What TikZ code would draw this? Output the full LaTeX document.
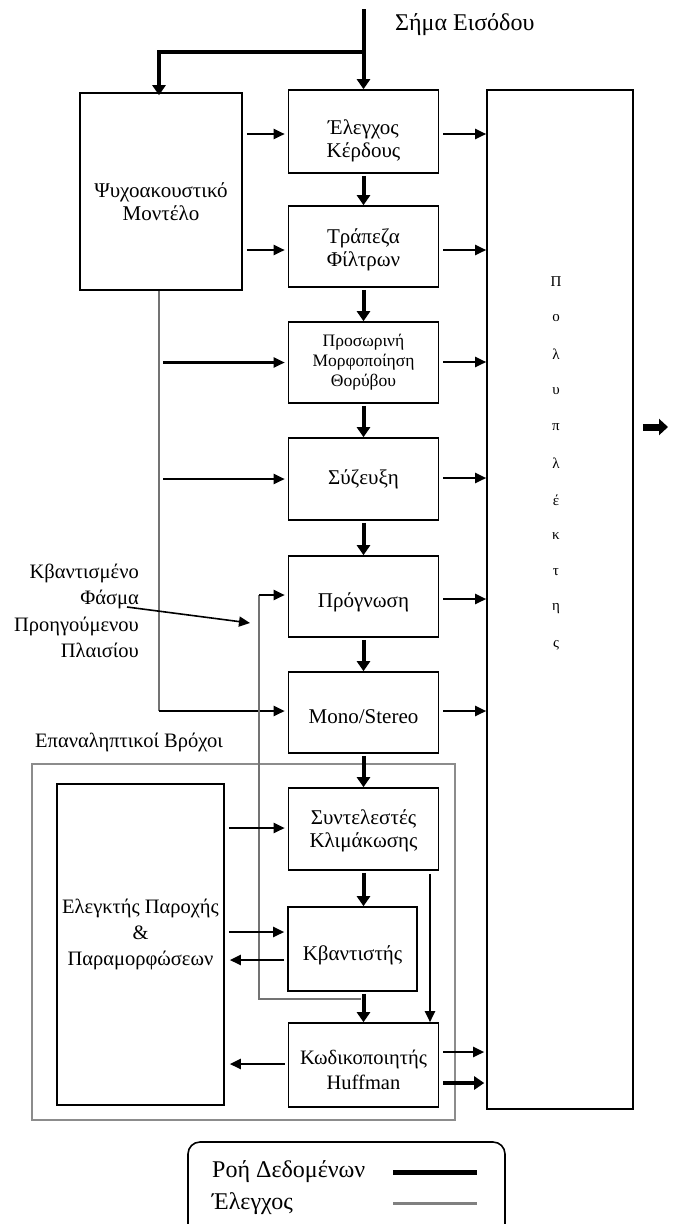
\documentclass[tikz,border=0pt]{standalone}
\usepackage{fontspec}
\setmainfont{Liberation Serif}
\usetikzlibrary{arrows.meta,calc}
\begin{document}
\begin{tikzpicture}[x=1pt,y=-1pt,
  box/.style={draw,line width=1.6pt,inner sep=0pt},
  txt/.style={align=center,inner sep=0pt,font=\fontsize{21}{23}\selectfont},
  data/.style={line width=4pt,-{Triangle[length=10pt,width=13pt]}},
  ctl/.style={line width=2.2pt,-{Triangle[length=11pt,width=10pt]}},
  ctlline/.style={line width=2.2pt,draw=black!55},
  lbl/.style={inner sep=0pt,font=\fontsize{20.5}{26.5}\selectfont}]
\clip (0,0) rectangle (674,1224);
\useasboundingbox (0,0) rectangle (674,1224);
% loop frame
\draw[line width=1.6pt,draw=black!45] (32,764) rectangle (455,1120);
\node[lbl,anchor=west] (looplbl) at (35,742) {Επαναληπτικοί Βρόχοι};
% boxes
\node[box,minimum width=162pt,minimum height=197pt] (psy) at (161,191.5) {};
\node[txt] (psyT) at ([yshift=-10pt]psy.center) {Ψυχοακουστικό\\Μοντέλο};
\node[box,minimum width=150pt,minimum height=83pt] (gain) at (363.5,131.5) {};
\node[txt] (gainT) at ([yshift=-9pt]gain.center) {Έλεγχος\\Κέρδους};
\node[box,minimum width=150pt,minimum height=81pt] (filt) at (363.5,246.5) {};
\node[txt] (filtT) at ([yshift=-3pt]filt.center) {Τράπεζα\\Φίλτρων};
\node[box,minimum width=150pt,minimum height=81pt] (tns) at (363.5,362.5) {};
\node[txt,font=\fontsize{17.5}{20}\selectfont] (tnsT) at (tns.center) {Προσωρινή\\Μορφοποίηση\\Θορύβου};
\node[box,minimum width=150pt,minimum height=82pt] (cpl) at (363.5,479) {};
\node[txt] (cplT) at (cpl.center) {Σύζευξη};
\node[box,minimum width=150pt,minimum height=81pt] (pred) at (363.5,596.5) {};
\node[txt] (predT) at ([yshift=-6pt]pred.center) {Πρόγνωση};
\node[box,minimum width=150pt,minimum height=81pt] (ms) at (363.5,712.5) {};
\node[txt] (msT) at ([yshift=-4pt]ms.center) {Mono/Stereo};
\node[box,minimum width=150pt,minimum height=82pt] (scl) at (363.5,829) {};
\node[txt] (sclT) at ([yshift=-2pt]scl.center) {Συντελεστές\\Κλιμάκωσης};
\node[box,minimum width=129pt,minimum height=84pt] (qnt) at (352.5,949) {};
\node[txt] (qntT) at ([yshift=-6pt]qnt.center) {Κβαντιστής};
\node[box,minimum width=150pt,minimum height=84pt] (huf) at (363.5,1065) {};
\node[txt,font=\fontsize{20.5}{25}\selectfont] (hufT) at ([yshift=-5pt]huf.center) {Κωδικοποιητής\\Huffman};
\node[box,minimum width=167pt,minimum height=321pt] (rc) at (140.5,944.5) {};
\node[txt,font=\fontsize{20.5}{26}\selectfont] (rcT) at ([yshift=10pt]rc.center) {Ελεγκτής Παροχής\\\&\\Παραμορφώσεων};
\node[box,minimum width=146pt,minimum height=1019pt] (mux) at (560,599.5) {};
\foreach \c [count=\i from 0] in {Π,ο,λ,υ,π,λ,έ,κ,τ,η,ς}
  \node[inner sep=0pt,font=\fontsize{15}{15}\selectfont] (m\i) at (556,282+36.3*\i) {\c};
% input
\coordinate (inTop) at (363.5,9);
\coordinate (inSplit) at (363.5,52);
\coordinate (psyIn) at (159,52);
\node[lbl,anchor=west,font=\fontsize{24}{26}\selectfont] (inlbl) at (395,25) {Σήμα Εισόδου};
\draw[line width=4pt] (inTop) -- (inSplit);
\draw[data] (inSplit) -- (gain.north);
\draw[data] (inSplit) -- (psyIn) -- ([yshift=-3pt]psyIn |- psy.north);
% data chain
\foreach \a/\b in {gain/filt,filt/tns,tns/cpl,cpl/pred,pred/ms,ms/scl}
  \draw[data,shorten <=2pt] (\a.south) -- (\b.north);
\draw[data,shorten <=2pt] (scl.south) -- (scl.center |- qnt.north);
\draw[data,shorten <=2pt] (scl.center |- qnt.south) -- (huf.north);
% to multiplexer
\foreach \a/\y in {gain/134,filt/250,tns/362,cpl/478,pred/599,ms/711}
  \draw[ctl,shorten <=4pt] (\a.east |- 0,\y) -- (mux.west |- 0,\y);
% psychoacoustic model
\draw[ctl,shorten <=4pt,shorten >=3pt] (psy.east |- 0,134) -- (gain.west |- 0,134);
\draw[ctl,shorten <=4pt,shorten >=3pt] (psy.east |- 0,250) -- (filt.west |- 0,250);
\coordinate (psyDown) at (159,711);
\draw[ctlline] (psy.south -| psyDown) -- (psyDown);
\draw[ctl,shorten >=3pt] (psyDown) -- (ms.west |- psyDown);
\draw[ctl,shorten <=4pt,shorten >=3pt] (psyDown |- tns) -- (tns.west);
\draw[ctl,shorten <=4pt,shorten >=3pt] (psyDown |- cpl) -- (cpl.west);
% previous spectrum
\node[lbl,align=right,anchor=east] (spec) at (139,611) {Κβαντισμένο\\Φάσμα\\Προηγούμενου\\Πλαισίου};
\coordinate (specEnd) at (250,623);
\draw[line width=1.6pt,-{Triangle[length=11pt,width=10pt]}] (127,607) -- (specEnd);
% feedback
\coordinate (fbA) at (361,999);
\coordinate (fbB) at (259,999);
\coordinate (fbC) at (259,595);
\draw[ctlline] (fbA) -- (fbB) -- (fbC);
\draw[ctl,shorten >=3pt] (fbC) -- (pred.west |- fbC);
% rate controller
\draw[ctl,shorten <=4pt,shorten >=3pt] (rc.east |- 0,828) -- (scl.west |- 0,828);
\draw[ctl,shorten <=4pt,shorten >=3pt] (rc.east |- 0,932) -- (qnt.west |- 0,932);
\draw[ctl,shorten <=3pt,shorten >=5pt] (qnt.west |- 0,960) -- (rc.east |- 0,960);
\draw[ctl,shorten <=3pt,shorten >=5pt] (huf.west |- 0,1064) -- (rc.east |- 0,1064);
\draw[ctl,shorten <=3pt] (scl.south -| 430,0) -- (huf.north -| 430,0);
% huffman to mux
\draw[ctl,shorten <=4pt,shorten >=2pt] (huf.east |- 0,1052) -- (mux.west |- 0,1052);
\draw[data,line width=3.5pt,shorten <=4pt,shorten >=2pt] (huf.east |- 0,1083) -- (mux.west |- 0,1083);
% output
\coordinate (outEnd) at (668,427);
\draw[line width=7pt,-{Triangle[length=9pt,width=16pt]}] (mux.east |- outEnd) ++(9,0) -- (outEnd);
% legend
\draw[line width=1.6pt,rounded corners=12pt] (188,1142) rectangle (505,1245);
\node[lbl,anchor=west,font=\fontsize{24}{26}\selectfont] (leg1) at (212,1172) {Ροή Δεδομένων};
\node[lbl,anchor=west,font=\fontsize{24}{26}\selectfont] (leg2) at (212,1204) {Έλεγχος};
\coordinate (l1a) at (393,1172); \coordinate (l1b) at (477,1172);
\coordinate (l2a) at (393,1203); \coordinate (l2b) at (477,1203);
\draw[line width=5pt] (l1a) -- (l1b);
\draw[line width=3pt,draw=black!50] (l2a) -- (l2b);
\end{tikzpicture}
\end{document}
